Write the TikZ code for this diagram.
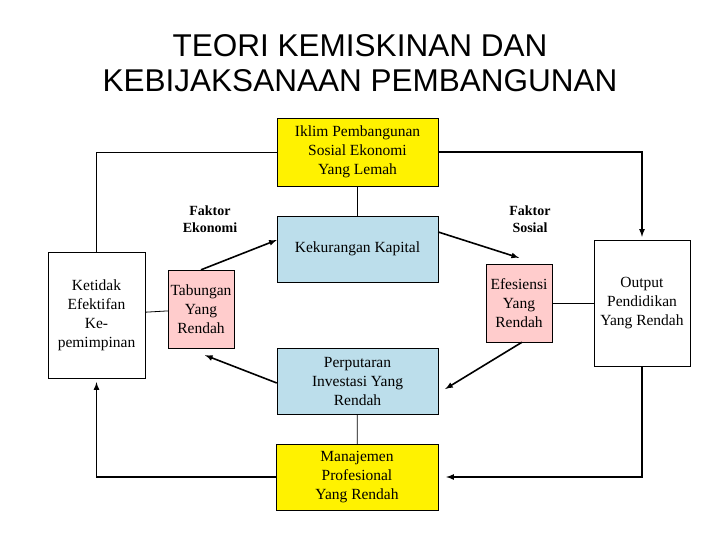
\documentclass[tikz,border=0pt]{standalone}
\usepackage{fontspec}
\setmainfont{Liberation Serif}
\newfontfamily\titlefont{Liberation Sans}
\usetikzlibrary{positioning}

\begin{document}
\begin{tikzpicture}[x=1pt,y=-1pt,
  box/.style={draw, align=center, inner sep=0pt, font=\fontsize{15.5}{19}\selectfont},
  flow/.style={->, >=latex, line width=1.6pt},
  link/.style={line width=0.8pt}]
  \useasboundingbox (0,0) rectangle (720,540);
  \node[align=center, font=\titlefont\fontsize{31.5}{35}\selectfont] (title) at (360,63) {TEORI KEMISKINAN DAN\\KEBIJAKSANAAN PEMBANGUNAN};
  % boxes
  \node[box, fill=yellow, minimum width=161, minimum height=68] (iklim) at (357.5,152) {Iklim Pembangunan\\Sosial Ekonomi\\Yang Lemah};
  \node[box, fill=cyan!25!white!85!gray, minimum width=161, minimum height=66] (kapital) at (357.5,249) {\raisebox{-10pt}{Kekurangan Kapital}};
  \node[box, fill=cyan!25!white!85!gray, minimum width=161, minimum height=66] (putar) at (357.5,381) {Perputaran\\Investasi Yang\\Rendah};
  \node[box, fill=yellow, minimum width=162, minimum height=66] (manajemen) at (357,477) {Manajemen\\Profesional\\Yang Rendah};
  \node[box, fill=red!20, minimum width=66, minimum height=78] (tabungan) at (201,309) {Tabungan\\Yang\\Rendah};
  \node[box, fill=red!20, minimum width=66, minimum height=78] (efisien) at (519,303) {Efesiensi\\Yang\\Rendah};
  \node[box, fill=white, minimum width=97, minimum height=126] (ketidak) at (96.5,315) {Ketidak\\Efektifan\\Ke-\\pemimpinan};
  \node[box, fill=white, minimum width=96, minimum height=126] (output) at (642,303) {Output\\Pendidikan\\Yang Rendah};
  % labels
  \node[align=center, font=\bfseries\fontsize{14}{17}\selectfont] (ekonomi) at (210,219) {Faktor\\Ekonomi};
  \node[align=center, font=\bfseries\fontsize{14}{17}\selectfont] (sosial) at (530,219) {Faktor\\Sosial};
  % outer loop
  \draw[link] (ketidak.north) |- (iklim.west);
  \draw[flow] (iklim.east) -| ([yshift=3]output.north);
  \draw[flow] (output.south) |- ([xshift=8]manajemen.east);
  \draw[flow] (manajemen.west) -| ([yshift=-4]ketidak.south);
  % inner links
  \draw[link] (iklim) -- (kapital);
  \draw[link] (putar) -- (manajemen);
  \draw[link] (ketidak) -- (tabungan);
  \draw[link] (efisien) -- (efisien -| output.west);
  % inner cycle
  \draw[flow] (tabungan.north) -- ([yshift=9]kapital.west);
  \draw[flow] ([yshift=17]kapital.east) -- ([yshift=6]efisien.north);
  \draw[flow] ([xshift=3]efisien.south) -- ([xshift=7,yshift=-8]putar.east);
  \draw[flow] ([yshift=-2]putar.west) -- ([xshift=4,yshift=-7]tabungan.south);
\end{tikzpicture}
\end{document}
